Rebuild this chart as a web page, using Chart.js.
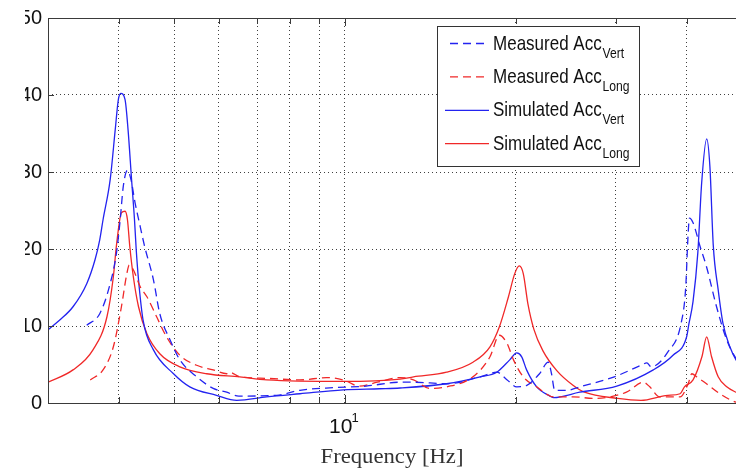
<!DOCTYPE html>
<html>
<head>
<meta charset="utf-8">
<script src="https://cdn.jsdelivr.net/npm/chart.js@4.4.1/dist/chart.umd.min.js"></script>
<style>
  html, body { margin: 0; padding: 0; background: #fff; overflow: hidden; }
  #wrap { position: relative; width: 760px; height: 469px; }
</style>
</head>
<body>
<div id="wrap"><canvas id="fig"></canvas></div>
<script>
// frequency response, acceleration vs frequency [Hz]
const measVertFreq = [3.51, 3.70, 3.86, 3.96, 4.02, 4.07, 4.14, 4.20, 4.27, 4.36, 4.44, 4.60, 4.72, 4.92, 5.12, 5.48, 5.86, 6.19, 6.5, 7.58, 8.33, 9.54, 10.9, 12.5, 13.2, 15.1, 17.3, 18.5, 19.3, 20.06, 20.9, 22.0, 22.8, 23.1, 23.4, 24.6, 25.9, 29.8, 33.2, 34.0, 34.6, 37.0, 39.1, 39.8, 40.16, 40.4, 41.0, 42.2, 43.3, 45.1, 47.0, 48.8, 50];
const measVertAcc = [10.1, 11.6, 15.5, 19.5, 23.8, 28.1, 30.2, 29.0, 26.0, 22.9, 20.3, 16.0, 11.6, 8.2, 5.6, 3.4, 1.9, 1.4, 0.9, 1.0, 1.65, 2.0, 2.2, 2.7, 2.7, 2.5, 3.4, 4.0, 3.0, 2.1, 2.3, 3.8, 5.3, 3.8, 1.65, 1.65, 2.1, 3.4, 4.9, 5.2, 4.7, 6.6, 10.5, 15.0, 21.5, 24.0, 23.4, 20.3, 17.7, 12.5, 8.2, 5.8, 5.0];

const measLongFreq = [3.56, 3.75, 3.91, 4.04, 4.13, 4.17, 4.24, 4.36, 4.48, 4.66, 4.85, 5.12, 5.48, 5.86, 6.19, 6.26, 6.53, 7.28, 8.33, 9.28, 9.93, 10.6, 11.4, 12.5, 13.2, 14.1, 15.1, 16.8, 18.0, 18.7, 19.3, 19.8, 20.6, 21.75, 23.3, 25.2, 27.4, 31.3, 33.5, 34.4, 35.8, 38.9, 40.2, 40.8, 41.6, 43.3, 45.7, 48.8, 50];
const measLongAcc = [3.0, 4.3, 7.3, 12.5, 16.8, 17.9, 17.3, 15.1, 13.8, 11.2, 8.6, 6.2, 4.9, 4.3, 3.8, 4.0, 3.4, 3.2, 3.0, 3.3, 3.0, 2.2, 2.7, 3.3, 3.0, 1.9, 2.1, 3.4, 6.0, 8.8, 7.7, 5.6, 3.4, 2.1, 0.8, 0.8, 0.6, 1.4, 2.7, 2.1, 0.8, 0.8, 2.5, 3.8, 3.4, 2.5, 1.2, 0.1, 0];

const simVertFreq = [3.0, 3.15, 3.32, 3.51, 3.63, 3.70, 3.75, 3.86, 3.94, 3.99, 4.03, 4.10, 4.15, 4.21, 4.26, 4.29, 4.33, 4.41, 4.60, 4.99, 5.33, 5.94, 6.45, 7.28, 8.33, 9.93, 11.5, 12.5, 15.1, 17.3, 18.5, 19.5, 20.06, 20.47, 20.88, 21.75, 22.96, 23.3, 25.9, 30.1, 34.9, 37.8, 39.95, 40.3, 41.0, 41.8, 42.46, 43.33, 43.9, 44.5, 45.4, 46.3, 47.6, 48.8, 50];
const simVertAcc = [9.5, 10.8, 12.5, 15.5, 18.6, 21.2, 23.8, 29.0, 35.5, 39.4, 40.2, 39.4, 35.5, 29.0, 23.8, 19.9, 16.0, 10.8, 6.9, 3.8, 2.1, 1.0, 0.35, 0.8, 1.2, 1.7, 1.85, 1.95, 2.5, 3.4, 4.0, 5.6, 6.5, 6.0, 4.3, 2.1, 0.9, 0.7, 1.4, 2.2, 4.3, 6.2, 8.6, 10.2, 13.2, 19.5, 28.6, 34.3, 30.7, 20.5, 14.7, 10.3, 7.3, 5.6, 4.6];

const simLongFreq = [3.0, 3.32, 3.60, 3.81, 3.91, 3.96, 4.04, 4.10, 4.14, 4.18, 4.24, 4.33, 4.48, 4.72, 5.12, 5.71, 6.53, 7.28, 9.93, 12.5, 13.2, 15.1, 16.8, 18.0, 18.7, 19.4, 19.9, 20.27, 20.6, 21.0, 21.5, 22.3, 23.6, 25.2, 26.4, 30.2, 33.2, 37.0, 38.9, 39.6, 41.0, 42.5, 43.33, 44.2, 45.4, 47.0, 48.8, 50];
const simLongAcc = [2.7, 4.3, 6.9, 11.2, 16.4, 20.5, 24.7, 24.9, 23.8, 20.3, 16.4, 12.5, 9.0, 6.4, 4.7, 3.8, 3.4, 3.0, 2.8, 3.1, 3.4, 4.0, 5.3, 7.3, 9.9, 13.8, 16.8, 17.8, 16.8, 12.8, 9.6, 6.8, 4.2, 2.3, 1.4, 0.6, 0.35, 1.0, 1.2, 2.1, 3.0, 6.0, 8.6, 6.0, 3.4, 2.1, 1.4, 1.1];

const xGrid = [4, 5, 6, 7, 8, 9, 10, 20, 30, 40];
const yTicks = [0, 10, 20, 30, 40, 50];
const legendMain = ['Measured Acc', 'Measured Acc', 'Simulated Acc', 'Simulated Acc'];
const legendSub = ['Vert', 'Long', 'Vert', 'Long'];

const BLUE = 'rgb(35, 35, 240)';
const RED = 'rgb(240, 40, 40)';
const SANS = '"Liberation Sans", Arial, sans-serif';

function pairs(xs, ys) {
  return xs.map((x, i) => ({ x, y: ys[i] }));
}

function series(label, xs, ys, color, dashed) {
  return {
    label,
    data: pairs(xs, ys),
    borderColor: color,
    borderWidth: 1.3,
    borderDash: dashed ? [8, 5] : [],
    pointRadius: 0,
    fill: false,
    cubicInterpolationMode: 'monotone'
  };
}

// box, inward ticks, exponent label, axis title and legend in the old plotting style
const frame = {
  id: 'frame',
  afterDraw(chart) {
    const { ctx, chartArea: a, scales: { x, y } } = chart;
    ctx.save();
    ctx.setLineDash([]);
    ctx.strokeStyle = '#3a3a3a';
    ctx.lineWidth = 1;
    ctx.strokeRect(a.left + 0.5, a.top + 0.5, a.right - a.left, a.bottom - a.top);

    ctx.beginPath();
    xGrid.forEach((v) => {
      const px = Math.round(x.getPixelForValue(v)) + 0.5;
      const len = v === 10 ? 8 : 6;
      ctx.moveTo(px, a.bottom); ctx.lineTo(px, a.bottom - len);
      ctx.moveTo(px, a.top); ctx.lineTo(px, a.top + len);
    });
    yTicks.slice(1, -1).forEach((v) => {
      const py = Math.round(y.getPixelForValue(v)) + 0.5;
      ctx.moveTo(a.left, py); ctx.lineTo(a.left + 6, py);
    });
    ctx.stroke();

    // the tick labels are trimmed along the left edge
    ctx.fillStyle = '#fff';
    ctx.fillRect(0, 0, 25, a.bottom + 14);

    // 10^1
    const p10 = x.getPixelForValue(10);
    ctx.fillStyle = '#111';
    ctx.textAlign = 'left';
    ctx.textBaseline = 'alphabetic';
    ctx.font = '21px ' + SANS;
    ctx.fillText('10', p10 - 16, 433);
    ctx.font = '13px ' + SANS;
    ctx.fillText('1', p10 + 6.5, 422);

    // axis title
    ctx.save();
    ctx.font = '21px "Liberation Serif", "Times New Roman", serif';
    ctx.fillStyle = '#333';
    ctx.translate(392, 463);
    ctx.scale(1.08, 1);
    ctx.textAlign = 'center';
    ctx.fillText('Frequency [Hz]', 0, 0);
    ctx.restore();

    // legend
    const lx = 437, ly = 26, lw = 202, lh = 140;
    ctx.fillStyle = '#fff';
    ctx.fillRect(lx, ly, lw, lh);
    ctx.strokeStyle = '#333';
    ctx.strokeRect(lx + 0.5, ly + 0.5, lw, lh);
    chart.data.datasets.forEach((ds, i) => {
      const cy = 43.5 + i * 33.4;
      const dashed = ds.borderDash.length > 0;
      ctx.strokeStyle = ds.borderColor;
      ctx.lineWidth = ds.borderWidth;
      ctx.setLineDash(ds.borderDash);
      ctx.beginPath();
      ctx.moveTo(dashed ? 450 : 445, cy);
      ctx.lineTo(489, cy);
      ctx.stroke();
      ctx.setLineDash([]);

      ctx.save();
      ctx.fillStyle = '#111';
      ctx.translate(493, cy + 6);
      ctx.scale(0.81, 1);
      ctx.font = '21px ' + SANS;
      ctx.fillText(legendMain[i], 0, 0);
      const w = ctx.measureText(legendMain[i]).width;
      ctx.font = '15px ' + SANS;
      ctx.fillText(legendSub[i], w + 1, 8);
      ctx.restore();
    });
    ctx.restore();
  }
};

new Chart(document.getElementById('fig'), {
  type: 'line',
  data: {
    datasets: [
      series('Measured Acc Vert', measVertFreq, measVertAcc, BLUE, true),
      series('Measured Acc Long', measLongFreq, measLongAcc, RED, true),
      series('Simulated Acc Vert', simVertFreq, simVertAcc, BLUE, false),
      series('Simulated Acc Long', simLongFreq, simLongAcc, RED, false)
    ]
  },
  options: {
    responsive: true,
    maintainAspectRatio: false,
    animation: false,
    events: [],
    layout: { padding: { top: 18, right: 18, left: 0, bottom: 0 } },
    plugins: {
      legend: { display: false },
      tooltip: { enabled: false }
    },
    scales: {
      x: {
        type: 'logarithmic',
        min: 3,
        max: 50,
        afterBuildTicks: (s) => { s.ticks = xGrid.map((v) => ({ value: v })); },
        afterFit: (s) => { s.height = 66; },
        ticks: { display: false },
        grid: { color: 'rgba(0,0,0,0.75)', lineWidth: 1, drawTicks: false },
        border: { display: false, dash: [1, 3] }
      },
      y: {
        min: 0,
        max: 50,
        afterBuildTicks: (s) => { s.ticks = yTicks.map((v) => ({ value: v })); },
        afterFit: (s) => { s.width = 48; },
        ticks: {
          color: '#111',
          padding: 6,
          font: { family: SANS, size: 20 }
        },
        grid: { color: 'rgba(0,0,0,0.75)', lineWidth: 1, drawTicks: false },
        border: { display: false, dash: [1, 3] }
      }
    }
  },
  plugins: [frame]
});
</script>
</body>
</html>
